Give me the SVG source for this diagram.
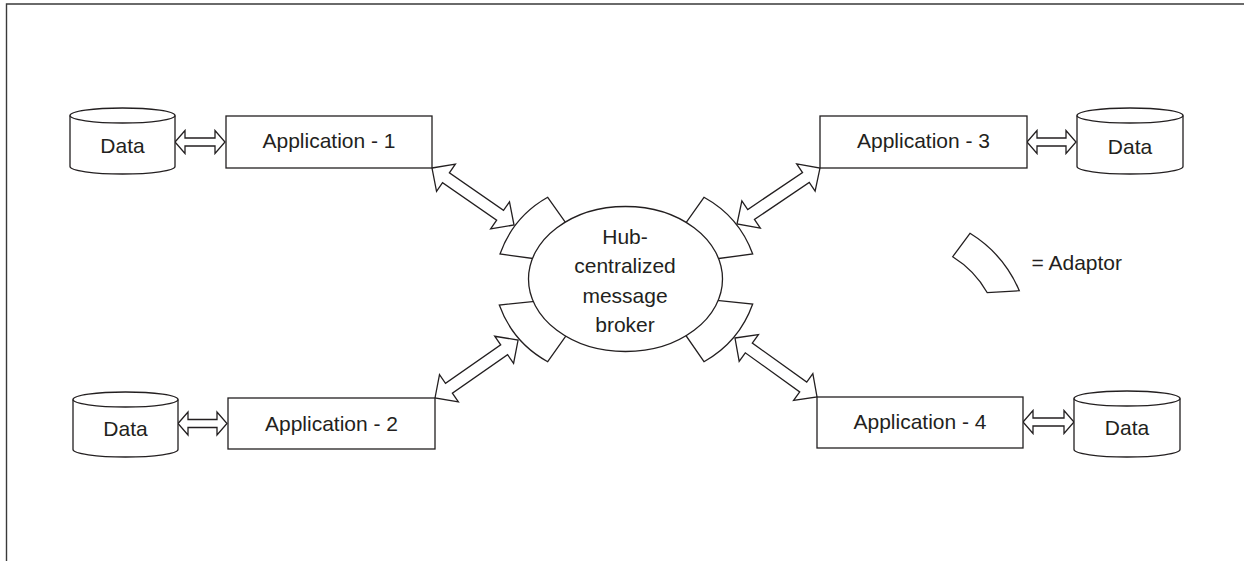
<svg xmlns="http://www.w3.org/2000/svg" width="1244" height="561" viewBox="0 0 1244 561">
<style>
.ln{fill:#fff;stroke:#231f20;stroke-width:1.3;stroke-linejoin:miter}
.tx{font-family:"Liberation Sans",Arial,sans-serif;font-size:21px;fill:#231f20;text-anchor:middle}
.fr{fill:none;stroke:#3a3a3a;stroke-width:1.4}
</style>
<rect width="1244" height="561" fill="#fff"/>
<path class="fr" d="M6.5,561 V4 H1244"/>
<g id="connectors">
<polygon class="ln" points="175,142 185,130.5 185,138 215,138 215,130.5 225,142 215,153.5 215,146 185,146 185,153.5"/>
<polygon class="ln" points="1027,142 1037,130.5 1037,138 1066,138 1066,130.5 1076,142 1066,153.5 1066,146 1037,146 1037,153.5"/>
<polygon class="ln" points="178,423.5 188,412 188,419.5 217,419.5 217,412 227,423.5 217,435 217,427.5 188,427.5 188,435"/>
<polygon class="ln" points="1023,422 1033,410.5 1033,418 1064,418 1064,410.5 1074,422 1064,433.5 1064,426 1033,426 1033,433.5"/>
<polygon class="ln" transform="translate(432,168) rotate(34.8)" points="0,0 17,-16.5 17,-6 82.9,-6 82.9,-16.5 99.9,0 82.9,16.5 82.9,6 17,6 17,16.5"/>
<polygon class="ln" transform="translate(435,398) rotate(-34.9)" points="0,0 17,-16.5 17,-6 84.3,-6 84.3,-16.5 101.3,0 84.3,16.5 84.3,6 17,6 17,16.5"/>
<polygon class="ln" transform="translate(737,224) rotate(-34.0)" points="0,0 17,-16.5 17,-6 83.1,-6 83.1,-16.5 100.1,0 83.1,16.5 83.1,6 17,6 17,16.5"/>
<polygon class="ln" transform="translate(735,338) rotate(35.7)" points="0,0 17,-16.5 17,-6 84,-6 84,-16.5 101,0 84,16.5 84,6 17,6 17,16.5"/>
</g>
<g id="data1">
<path class="ln" d="M70,115.5 V166.5 A52.5,7.5 0 0 0 175,166.5 V115.5"/>
<ellipse class="ln" cx="122.5" cy="115.5" rx="52.5" ry="7.5"/>
<text class="tx" x="122.5" y="153">Data</text>
</g>
<g id="app1">
<rect class="ln" x="226" y="116" width="206" height="52"/>
<text class="tx" x="329" y="148">Application - 1</text>
</g>
<g id="data3">
<path class="ln" d="M1077,115.5 V166.5 A53,7.5 0 0 0 1183,166.5 V115.5"/>
<ellipse class="ln" cx="1130" cy="115.5" rx="53" ry="7.5"/>
<text class="tx" x="1130" y="153.5">Data</text>
</g>
<g id="app3">
<rect class="ln" x="820" y="116" width="207" height="52"/>
<text class="tx" x="923.5" y="148">Application - 3</text>
</g>
<g id="data2">
<path class="ln" d="M73,399.5 V449.5 A52.5,7.5 0 0 0 178,449.5 V399.5"/>
<ellipse class="ln" cx="125.5" cy="399.5" rx="52.5" ry="7.5"/>
<text class="tx" x="125.5" y="436">Data</text>
</g>
<g id="app2">
<rect class="ln" x="228" y="398" width="207" height="51"/>
<text class="tx" x="331.5" y="430.5">Application - 2</text>
</g>
<g id="data4">
<path class="ln" d="M1074,398.5 V449.5 A53,7.5 0 0 0 1180,449.5 V398.5"/>
<ellipse class="ln" cx="1127" cy="398.5" rx="53" ry="7.5"/>
<text class="tx" x="1127" y="435">Data</text>
</g>
<g id="app4">
<rect class="ln" x="817" y="397" width="206" height="51"/>
<text class="tx" x="920" y="429">Application - 4</text>
</g>
<g id="adaptors">
<path class="ln" d="M500,254 Q513.2,216.7 547.7,197.3 L566.7,224.2 L534.7,258.7 Z"/>
<path class="ln" d="M752.7,254 Q739.1,216.7 704,197.3 L685,224.2 L717,258.7 Z"/>
<path class="ln" d="M499.3,305 Q512.8,342.5 547.7,361.7 L566.7,334.9 L534.7,301.4 Z"/>
<path class="ln" d="M752.7,304 Q739.1,342 704,361.7 L685,334.2 L717,300.4 Z"/>
</g>
<g id="hub">
<ellipse class="ln" cx="625.5" cy="279" rx="97" ry="72.5"/>
<text class="tx" x="625" y="244">Hub-</text>
<text class="tx" x="625" y="273">centralized</text>
<text class="tx" x="625" y="302.5">message</text>
<text class="tx" x="625" y="331.5">broker</text>
</g>
<g id="legend">
<path class="ln" d="M970,233.3 L952.7,256.7 Q974.6,270.3 987.3,292.7 L1019.3,290.7 Q1003.8,254.2 970,233.3 Z"/>
<text class="tx" x="1031.5" y="270" style="text-anchor:start">= Adaptor</text>
</g>
</svg>
